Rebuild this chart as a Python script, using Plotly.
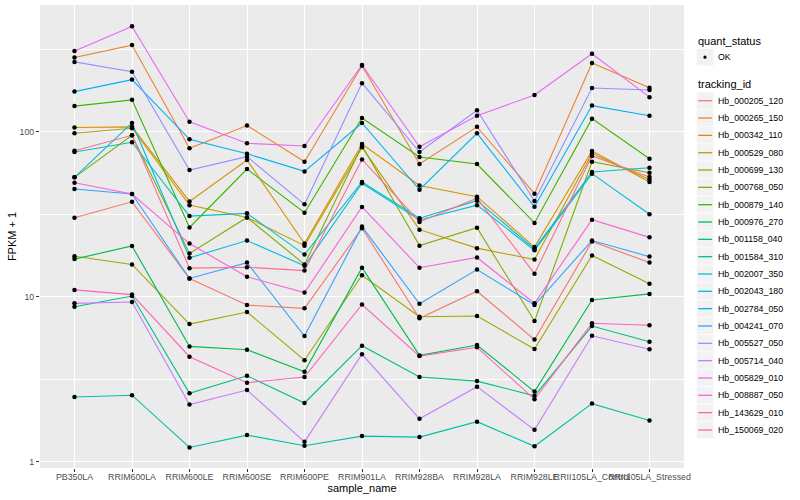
import plotly.graph_objects as go

# ---------------- data (FPKM + 1) ----------------
samples = ["PB350LA", "RRIM600LA", "RRIM600LE", "RRIM600SE", "RRIM600PE",
           "RRIM901LA", "RRIM928BA", "RRIM928LA", "RRIM928LE",
           "RRII105LA_Control", "RRII105LA_Stressed"]

tracking_ids = ["Hb_000205_120", "Hb_000265_150", "Hb_000342_110", "Hb_000529_080",
                "Hb_000699_130", "Hb_000768_050", "Hb_000879_140", "Hb_000976_270",
                "Hb_001158_040", "Hb_001584_310", "Hb_002007_350", "Hb_002043_180",
                "Hb_002784_050", "Hb_004241_070", "Hb_005527_050", "Hb_005714_040",
                "Hb_005829_010", "Hb_008887_050", "Hb_143629_010", "Hb_150069_020"]

hue_colors = ["#F8766D", "#EA8331", "#D89000", "#C09B00", "#A3A500", "#7CAE00",
              "#39B600", "#00BB4E", "#00BF7D", "#00C1A3", "#00BFC4", "#00BAE0",
              "#00B0F6", "#35A2FF", "#9590FF", "#C77CFF", "#E76BF3", "#FA62DB",
              "#FF62BC", "#FF6C91"]

Hb_000205_120 = [30.1, 37.6, 12.9, 8.9, 8.5, 26.0, 7.4, 10.8, 5.5, 21.6, 16.1]
Hb_000265_150 = [282, 335, 79.3, 109, 65.8, 251, 63.7, 107, 42.1, 261, 185]
Hb_000342_110 = [106, 107, 37.8, 67.4, 21.0, 84.2, 47.2, 40.4, 20.0, 76.4, 49.6]
Hb_000529_080 = [97.8, 105, 35.9, 30.2, 20.4, 80.4, 25.5, 19.7, 16.8, 73.8, 51.3]
Hb_000699_130 = [17.6, 15.7, 6.83, 8.08, 4.12, 13.5, 7.56, 7.64, 4.82, 17.8, 12.0]
Hb_000768_050 = [52.9, 95.1, 18.3, 30.2, 15.7, 82.3, 20.4, 26.2, 7.12, 65.8, 56.4]
Hb_000879_140 = [143, 156, 26.3, 59.4, 32.3, 121, 70.2, 63.7, 28.0, 120, 68.6]
Hb_000976_270 = [16.9, 20.3, 5.00, 4.77, 3.51, 15.0, 4.41, 5.10, 2.66, 9.55, 10.4]
Hb_001158_040 = [8.70, 10.1, 2.60, 3.32, 2.27, 5.05, 3.26, 3.08, 2.51, 6.64, 5.34]
Hb_001584_310 = [2.47, 2.53, 1.22, 1.45, 1.25, 1.43, 1.41, 1.75, 1.24, 2.25, 1.78]
Hb_002007_350 = [75.3, 86.3, 30.8, 32.0, 18.0, 49.6, 29.9, 38.2, 19.5, 57.0, 60.5]
Hb_002043_180 = [52.9, 113, 17.2, 21.9, 15.4, 48.7, 29.2, 35.9, 19.1, 55.7, 31.6]
Hb_002784_050 = [175, 207, 89.9, 73.6, 57.5, 113, 44.5, 97.8, 35.1, 144, 125]
Hb_004241_070 = [45.0, 41.9, 12.9, 16.1, 5.78, 26.6, 9.07, 14.6, 8.91, 21.9, 17.5]
Hb_005527_050 = [265, 231, 58.6, 70.6, 36.3, 197, 75.3, 135, 38.0, 184, 179]
Hb_005714_040 = [9.12, 9.29, 2.22, 2.72, 1.32, 4.48, 1.82, 2.85, 1.56, 5.80, 4.80]
Hb_005829_010 = [308, 435, 115, 85.1, 81.9, 254, 81.1, 125, 167, 297, 162]
Hb_008887_050 = [49.1, 41.9, 21.0, 13.2, 10.6, 35.0, 15.0, 17.3, 9.12, 29.3, 22.9]
Hb_143629_010 = [11.0, 10.3, 4.33, 3.01, 3.26, 8.97, 4.37, 4.94, 2.39, 6.90, 6.71]
Hb_150069_020 = [76.7, 95.1, 14.9, 15.1, 14.4, 67.9, 28.4, 39.5, 13.8, 71.2, 53.1]

series_values = [Hb_000205_120, Hb_000265_150, Hb_000342_110, Hb_000529_080,
                 Hb_000699_130, Hb_000768_050, Hb_000879_140, Hb_000976_270,
                 Hb_001158_040, Hb_001584_310, Hb_002007_350, Hb_002043_180,
                 Hb_002784_050, Hb_004241_070, Hb_005527_050, Hb_005714_040,
                 Hb_005829_010, Hb_008887_050, Hb_143629_010, Hb_150069_020]

y_tick_vals = [1, 10, 100]
y_tick_text = ["1", "10", "100"]
y_minor_vals = [10 ** 0.5, 10 ** 1.5, 10 ** 2.5]

# ---------------- figure ----------------
FONT = "Liberation Sans, Arial, sans-serif"
fig = go.Figure()

for name, col, vals in zip(tracking_ids, hue_colors, series_values):
    fig.add_trace(go.Scatter(x=samples, y=vals, mode="lines", name=name,
                             line=dict(color=col, width=1.1), showlegend=False,
                             hoverinfo="skip"))

for name, vals in zip(tracking_ids, series_values):
    fig.add_trace(go.Scatter(x=samples, y=vals, mode="markers", name=name,
                             marker=dict(color="black", size=4.5), showlegend=False))

# plot area in pixels
L, R, T, B = 40, 684, 5, 468
W, H = R - L, B - T


def px_x(px):
    return (px - L) / W


def px_y(py):
    return (B - py) / H


shapes = []
annotations = []

# legend: quant_status
annotations.append(dict(x=px_x(696), y=px_y(40.7), xref="paper", yref="paper",
                        text="quant_status", showarrow=False, xanchor="left",
                        yanchor="middle", font=dict(size=11, color="black", family=FONT)))
key = 17.3
kx0 = 696.5
shapes.append(dict(type="rect", xref="paper", yref="paper",
                   x0=px_x(kx0), x1=px_x(kx0 + key), y0=px_y(48.5), y1=px_y(48.5 + key),
                   fillcolor="#F2F2F2", line=dict(color="white", width=0.6), layer="above"))
shapes.append(dict(type="circle", xref="paper", yref="paper",
                   x0=px_x(703.4), x1=px_x(706.6), y0=px_y(55.6), y1=px_y(58.8),
                   fillcolor="black", line=dict(color="black", width=0), layer="above"))
annotations.append(dict(x=px_x(716), y=px_y(57.2), xref="paper", yref="paper",
                        text="OK", showarrow=False, xanchor="left", yanchor="middle",
                        font=dict(size=8.8, color="black", family=FONT)))

# legend: tracking_id
annotations.append(dict(x=px_x(696), y=px_y(84.3), xref="paper", yref="paper",
                        text="tracking_id", showarrow=False, xanchor="left",
                        yanchor="middle", font=dict(size=11, color="black", family=FONT)))
for i, (name, col) in enumerate(zip(tracking_ids, hue_colors)):
    cy = 100.7 + i * 17.33
    shapes.append(dict(type="rect", xref="paper", yref="paper",
                       x0=px_x(kx0), x1=px_x(kx0 + key),
                       y0=px_y(cy - key / 2), y1=px_y(cy + key / 2),
                       fillcolor="#F2F2F2", line=dict(color="white", width=0.6), layer="above"))
    shapes.append(dict(type="line", xref="paper", yref="paper",
                       x0=px_x(698.2), x1=px_x(712.1), y0=px_y(cy), y1=px_y(cy),
                       line=dict(color=col, width=1.3), layer="above"))
    annotations.append(dict(x=px_x(716), y=px_y(cy), xref="paper", yref="paper",
                            text=name, showarrow=False, xanchor="left", yanchor="middle",
                            font=dict(size=8.8, color="black", family=FONT)))

fig.update_layout(
    width=800, height=500, autosize=False,
    margin=dict(l=L, r=800 - R, t=T, b=500 - B),
    paper_bgcolor="white", plot_bgcolor="#EBEBEB",
    font=dict(family=FONT, size=11, color="black"),
    showlegend=False,
    shapes=shapes, annotations=annotations,
    xaxis=dict(type="category", categoryorder="array", categoryarray=samples,
               range=[-0.6, len(samples) - 0.4], showgrid=True, gridcolor="white",
               gridwidth=1.4, zeroline=False, showline=False, ticks="outside",
               ticklen=3, tickwidth=1, tickcolor="#333333", tickangle=0,
               automargin=False, ticklabelstandoff=-3,
               tickfont=dict(size=8.8, color="#4D4D4D", family=FONT),
               title=dict(text="sample_name", font=dict(size=11, color="black", family=FONT),
                          standoff=0)),
    yaxis=dict(type="log", range=[-0.038, 2.768], tickmode="array",
               tickvals=y_tick_vals, ticktext=y_tick_text,
               showgrid=True, gridcolor="white", gridwidth=1.4, zeroline=False,
               showline=False, ticks="outside", ticklen=3, tickwidth=1,
               tickcolor="#333333", automargin=False,
               tickfont=dict(size=8.8, color="#4D4D4D", family=FONT),
               minor=dict(tickmode="array", tickvals=y_minor_vals, showgrid=True,
                          gridcolor="white", gridwidth=0.7, ticks=""),
               title=dict(text="FPKM + 1", font=dict(size=11, color="black", family=FONT),
                          standoff=0)),
)

fig.write_html("out.html", config={"displayModeBar": False},
               post_script="document.body.style.margin='0';document.body.style.padding='0';")
